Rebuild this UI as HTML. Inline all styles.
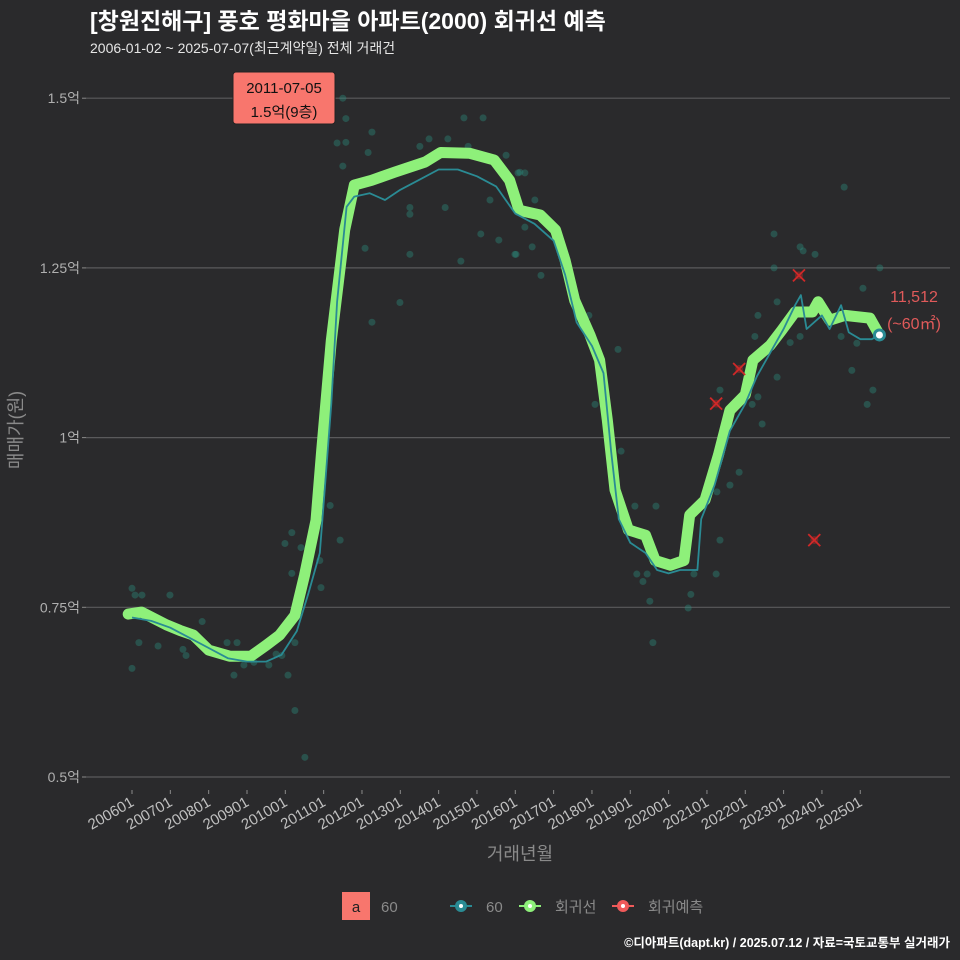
<!DOCTYPE html>
<html><head><meta charset="utf-8">
<style>
html,body{margin:0;padding:0;background:#2a2a2c;}
svg{display:block;font-family:"Liberation Sans","Noto Sans CJK KR",sans-serif;}
</style></head>
<body>
<svg id="chart" width="960" height="960" viewBox="0 0 960 960">
<rect x="0" y="0" width="960" height="960" fill="#2a2a2c"/>
<text x="90" y="29" fill="#ffffff" font-size="23" font-weight="bold">[창원진해구] 풍호 평화마을 아파트(2000) 회귀선 예측</text>
<text x="90" y="53" fill="#e6e6e6" font-size="14">2006-01-02 ~ 2025-07-07(최근계약일) 전체 거래건</text>
<g id="grid"></g>
<g id="yticks"></g>
<g id="xticks"></g>
<text transform="translate(22,430) rotate(-90)" text-anchor="middle" fill="#8a8a8a" font-size="18">매매가(원)</text>
<text x="520" y="860" text-anchor="middle" fill="#8a8a8a" font-size="18">거래년월</text>
<g id="points"></g>
<g id="lines"></g>
<g id="preds"></g>
<g id="annot"></g>
<g>
  <rect x="342" y="892" width="28" height="28" fill="#f8766d"/>
  <text x="356" y="912" text-anchor="middle" fill="#222" font-size="15">a</text>
  <text x="381" y="912" fill="#8a8a8a" font-size="15">60</text>
  <g>
    <line x1="450" y1="906" x2="472" y2="906" stroke="#2a8b94" stroke-width="2"/>
    <circle cx="461" cy="906" r="6" fill="#2a8b94"/><circle cx="461" cy="906" r="2" fill="#fff"/>
    <text x="486" y="912" fill="#8a8a8a" font-size="15">60</text>
  </g>
  <g>
    <line x1="519" y1="906" x2="541" y2="906" stroke="#8ef07a" stroke-width="2"/>
    <circle cx="530" cy="906" r="6" fill="#8ef07a"/><circle cx="530" cy="906" r="2" fill="#fff"/>
    <text x="555" y="912" fill="#8a8a8a" font-size="15">회귀선</text>
  </g>
  <g>
    <line x1="612" y1="906" x2="634" y2="906" stroke="#f05a5a" stroke-width="2"/>
    <circle cx="623" cy="906" r="6" fill="#f05a5a"/><circle cx="623" cy="906" r="2" fill="#fff"/>
    <text x="648" y="912" fill="#8a8a8a" font-size="15">회귀예측</text>
  </g>
</g>
<text x="950" y="947" text-anchor="end" fill="#ffffff" font-size="12.5" font-weight="bold">©디아파트(dapt.kr) / 2025.07.12 / 자료=국토교통부 실거래가</text>
</svg>
<script>
const yTicks = [5000, 7500, 10000, 12500, 15000];
const yTickLabels = ["0.5억", "0.75억", "1억", "1.25억", "1.5억"];
const xTickYears = [2006,2007,2008,2009,2010,2011,2012,2013,2014,2015,2016,2017,2018,2019,2020,2021,2022,2023,2024,2025];
const xTickLabels = ["200601","200701","200801","200901","201001","201101","201201","201301","201401","201501","201601","201701","201801","201901","202001","202101","202201","202301","202401","202501"];
const regYears = [2005.9,2006.25,2006.9,2007.25,2007.6,2008.0,2008.55,2009.1,2009.5,2009.85,2010.25,2010.5,2010.8,2010.95,2011.2,2011.55,2011.8,2012.25,2012.85,2013.65,2014.05,2014.8,2015.45,2015.85,2016.1,2016.65,2017.05,2017.3,2017.55,2017.95,2018.2,2018.4,2018.6,2018.95,2019.4,2019.65,2020.05,2020.4,2020.55,2020.95,2021.3,2021.6,2022.0,2022.2,2022.65,2022.95,2023.3,2023.75,2023.9,2024.2,2024.6,2025.25,2025.5];
const regValues = [7400,7430,7240,7160,7090,6870,6780,6780,6940,7090,7380,7970,8780,9810,11430,13060,13720,13790,13910,14060,14200,14190,14090,13790,13350,13280,13060,12610,12020,11510,11140,10260,9230,8640,8560,8190,8120,8190,8860,9080,9740,10400,10630,11140,11360,11580,11850,11850,12000,11730,11800,11760,11512];
const avgYears = [2006.0,2006.5,2007.0,2007.5,2008.0,2008.5,2009.0,2009.5,2009.9,2010.3,2010.6,2010.9,2011.05,2011.2,2011.35,2011.6,2011.8,2012.2,2012.6,2013.0,2013.5,2014.0,2014.5,2015.0,2015.5,2016.0,2016.5,2017.0,2017.3,2017.6,2018.0,2018.3,2018.5,2018.7,2019.0,2019.4,2019.7,2020.0,2020.3,2020.75,2020.85,2021.2,2021.6,2022.0,2022.3,2022.7,2023.0,2023.3,2023.45,2023.6,2024.0,2024.2,2024.5,2024.7,2025.0,2025.3,2025.5];
const avgValues = [7350,7300,7200,7050,6900,6750,6700,6700,6800,7150,7700,8300,9400,10500,12000,13400,13550,13600,13500,13650,13800,13950,13950,13850,13700,13300,13150,12900,12400,11700,11350,10950,9800,8800,8450,8300,8050,8000,8050,8050,8800,9300,10100,10500,10900,11300,11600,11950,12100,11600,11800,11600,11950,11550,11450,11450,11512];
const tradeYears = [2006.0,2006.08,2006.26,2006.99,2006.18,2006.0,2006.68,2007.33,2007.41,2007.83,2008.48,2008.74,2008.66,2008.92,2009.18,2009.57,2009.76,2009.91,2010.07,2010.25,2010.17,2010.17,2009.99,2010.41,2010.25,2010.51,2010.93,2010.9,2011.17,2011.43,2011.17,2012.26,2012.99,2011.5,2012.08,2011.5,2011.35,2011.58,2011.5,2011.58,2012.26,2012.16,2013.25,2013.25,2013.25,2014.17,2013.51,2013.75,2014.24,2014.66,2015.16,2014.77,2015.76,2014.58,2015.1,2015.57,2015.99,2015.34,2016.12,2016.07,2016.25,2016.51,2016.25,2016.44,2016.02,2016.67,2017.92,2018.68,2018.08,2018.76,2019.12,2019.67,2019.17,2019.44,2019.33,2019.51,2019.59,2020.58,2020.51,2020.66,2021.24,2021.34,2021.6,2021.84,2021.26,2021.34,2022.44,2022.33,2022.18,2022.25,2022.33,2022.83,2022.75,2022.75,2023.43,2023.51,2023.82,2022.83,2023.17,2023.43,2024.58,2025.51,2025.07,2024.91,2024.78,2025.33,2025.18,2024.5];
const tradeValues = [7780,7680,7680,7680,6980,6600,6930,6880,6790,7290,6980,6980,6500,6650,6690,6650,6810,6790,6500,6980,8000,8600,8440,8380,5980,5290,7790,8190,9000,8490,11490,11700,11990,13090,12790,14000,14340,14350,15000,14700,14500,14200,13390,13290,12700,13390,14290,14400,14400,14710,14710,14290,14160,12600,13000,12910,12700,13500,13910,13900,13900,13500,13100,12810,12700,12390,11800,11300,10490,9800,8990,8990,7990,7990,7880,7590,6980,7690,7490,7990,7990,8490,9300,9490,9200,10700,10200,10600,10490,11490,11800,10890,12500,13000,12810,12750,12700,12000,11400,11490,13690,12500,12200,11390,10990,10700,10490,11490];
const predYears = [2021.24, 2021.84, 2023.4, 2023.8];
const predValues = [10500, 11010, 12390, 8490];

const NS = "http://www.w3.org/2000/svg";
const X0 = 132, PXY = 38.33, Y0 = 777, PXV = 0.06788;
function sx(yr){ return X0 + (yr - 2006) * PXY; }
function sy(v){ return Y0 - (v - 5000) * PXV; }
function mk(tag, attrs, parent){ const e = document.createElementNS(NS, tag); for (const k in attrs) e.setAttribute(k, attrs[k]); parent.appendChild(e); return e; }

const grid = document.getElementById('grid'), yt = document.getElementById('yticks'), xt = document.getElementById('xticks');
yTicks.forEach((v, i) => {
  const l = mk('line', {x1: 86, x2: 950, y1: sy(v), y2: sy(v), stroke: '#5a5a5c', 'stroke-width': 1.2}, grid);
  
  
  const tk = mk('line', {x1: 82, x2: 86, y1: sy(v), y2: sy(v), stroke: '#8a8a8a'}, yt);
  
  
  const t = mk('text', {x: 80, y: sy(v) + 5, 'text-anchor': 'end', fill: '#b0b0b0', 'font-size': 14}, yt);
  t.textContent = yTickLabels[i];
  
  
});
xTickYears.forEach((yr, i) => {
  const x = sx(yr);
  const tk = mk('line', {x1: x, x2: x, y1: 790, y2: 794, stroke: '#8a8a8a'}, xt);
  
  
  const t = mk('text', {transform: `translate(${x+3},${805}) rotate(-30)`, 'text-anchor': 'end', fill: '#c0c0c0', 'font-size': 15}, xt);
  t.textContent = xTickLabels[i];
  
  
});

const pts = document.getElementById('points');
tradeYears.forEach((yr, i) => {
  const c = mk('circle', {cx: sx(yr), cy: sy(tradeValues[i]), r: 3.5, fill: '#2a8b7c', 'fill-opacity': 0.4}, pts);
  
  
});

const lines = document.getElementById('lines');
const regD = regYears.map((yr, i) => (i ? 'L' : 'M') + sx(yr).toFixed(1) + ',' + sy(regValues[i]).toFixed(1)).join(' ');
const reg = mk('path', {d: regD, fill: 'none', stroke: '#8ef07a', 'stroke-width': 11, 'stroke-linejoin': 'round', 'stroke-linecap': 'round'}, lines);


const avgD = avgYears.map((yr, i) => (i ? 'L' : 'M') + sx(yr).toFixed(1) + ',' + sy(avgValues[i]).toFixed(1)).join(' ');
const avg = mk('path', {d: avgD, fill: 'none', stroke: '#2a8b94', 'stroke-width': 1.8, 'stroke-linejoin': 'round'}, lines);



const preds = document.getElementById('preds');
predYears.forEach((yr, i) => {
  const x = sx(yr), y = sy(predValues[i]);
  const g = mk('g', {}, preds);
  
  
  mk('circle', {cx: x, cy: y, r: 4, fill: '#8a2a2a', 'fill-opacity': 0.7}, g);
  mk('path', {d: `M${x-6},${y-6}L${x+6},${y+6}M${x-6},${y+6}L${x+6},${y-6}`, stroke: '#d02828', 'stroke-width': 1.8}, g);
});

const an = document.getElementById('annot');
const lx = sx(regYears[regYears.length-1]), ly = sy(regValues[regValues.length-1]);
const lp = mk('circle', {cx: lx, cy: ly, r: 5, fill: '#fff', stroke: '#2a8b94', 'stroke-width': 3}, an);


const t1 = mk('text', {x: 914, y: 302, 'text-anchor': 'middle', fill: '#e05a5a', 'font-size': 16}, an);
t1.textContent = '11,512';


const t2 = mk('text', {x: 914, y: 329, 'text-anchor': 'middle', fill: '#e05a5a', 'font-size': 16}, an);
t2.textContent = '(~60㎡)';


const box = mk('g', {}, an);


mk('rect', {x: 233, y: 72, width: 102, height: 52, rx: 3, fill: '#f8766d', stroke: '#222', 'stroke-width': 1}, box);
const b1 = mk('text', {x: 284, y: 93, 'text-anchor': 'middle', fill: '#111', 'font-size': 15}, box); b1.textContent = '2011-07-05';
const b2 = mk('text', {x: 284, y: 117, 'text-anchor': 'middle', fill: '#111', 'font-size': 15}, box); b2.textContent = '1.5억(9층)';
</script>
</body></html>
